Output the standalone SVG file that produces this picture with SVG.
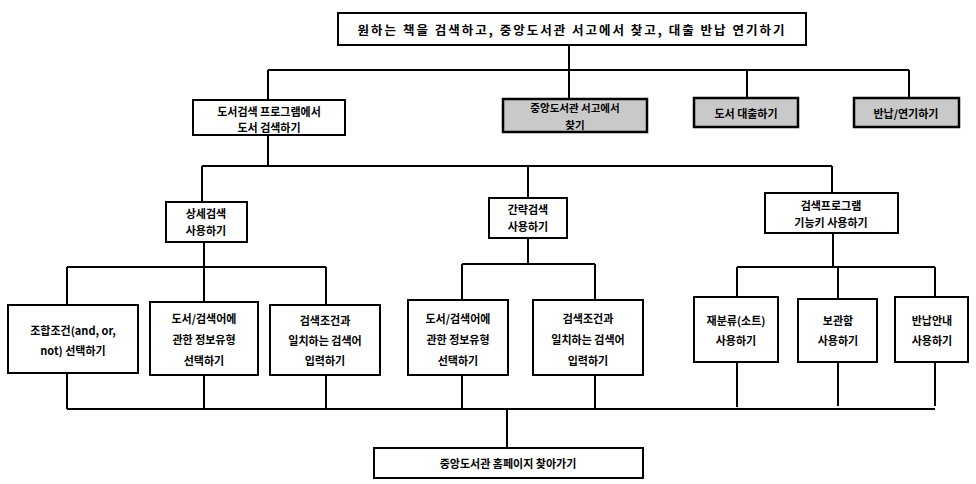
<svg xmlns="http://www.w3.org/2000/svg" width="976" height="484" viewBox="0 0 976 484">
<style>
.box{fill:#ffffff;stroke:#000;stroke-width:2}
.grey{fill:#c9c9c9;stroke:#000;stroke-width:2.5}
.t{font-family:"Noto Sans CJK KR","Noto Sans",sans-serif;font-weight:bold;font-size:11px;fill:#000;text-anchor:middle;dominant-baseline:central}
.tt{font-size:12.5px;letter-spacing:2px}
.s{font-size:10.5px}
.c{stroke:#000;stroke-width:2;fill:none}
</style>
<rect width="976" height="484" fill="#fff"/>
<g id="connectors">
<path class="c" d="M569 45V70M268 70H909M268 70V100M569 70V99M747 70V98M909 70V98"/>
<path class="c" d="M268 135V166M202 166H832M202 166V202M528 166V198M832 166V193"/>
<path class="c" d="M204 242V267M67 267H326M67 267V305M204 267V302M326 267V305"/>
<path class="c" d="M528 238V264M462 264H595M462 264V300M595 264V300"/>
<path class="c" d="M833 233V267M737 267H935M737 267V297M838 267V299M935 267V297"/>
<path class="c" d="M67 373V409M204 375V409M326 375V409M462 375V408M595 375V408M737 362V407M838 362V406M935 362V406M67 409H935"/>
<path class="c" d="M507 408V448"/>
</g>
<g id="n0"><rect class="box" x="338" y="13" width="468" height="32"/><text class="t tt" x="572" y="29">원하는 책을 검색하고, 중앙도서관 서고에서 찾고, 대출 반납 연기하기</text></g>
<g id="n1"><rect class="box" x="193" y="100" width="152" height="35"/><text class="t" x="269" y="111">도서검색 프로그램에서</text><text class="t" x="269" y="127">도서 검색하기</text></g>
<g id="n2"><rect class="grey" x="503" y="99" width="144" height="33"/><text class="t s" x="575" y="107">중앙도서관 서고에서</text><text class="t s" x="575" y="124">찾기</text></g>
<g id="n3"><rect class="grey" x="694" y="98" width="104" height="29"/><text class="t" x="746" y="113">도서 대출하기</text></g>
<g id="n4"><rect class="grey" x="854" y="98" width="105" height="29"/><text class="t" x="906" y="113">반납/연기하기</text></g>
<g id="n5"><rect class="box" x="166" y="202" width="81" height="40"/><text class="t" x="206" y="213">상세검색</text><text class="t" x="206" y="230">사용하기</text></g>
<g id="n6"><rect class="box" x="489" y="198" width="78" height="40"/><text class="t" x="528" y="209">간략검색</text><text class="t" x="528" y="226">사용하기</text></g>
<g id="n7"><rect class="box" x="765" y="193" width="133" height="40"/><text class="t" x="831" y="205">검색프로그램</text><text class="t" x="831" y="222">기능키 사용하기</text></g>
<g id="n8"><rect class="box" x="8" y="305" width="130" height="68"/><text class="t" x="73" y="330">조합조건(and, or,</text><text class="t" x="73" y="350">not) 선택하기</text></g>
<g id="n9"><rect class="box" x="150" y="302" width="108" height="73"/><text class="t" x="204" y="318">도서/검색어에</text><text class="t" x="204" y="339">관한 정보유형</text><text class="t" x="204" y="360">선택하기</text></g>
<g id="n10"><rect class="box" x="270" y="305" width="110" height="70"/><text class="t" x="325" y="320">검색조건과</text><text class="t" x="325" y="340">일치하는 검색어</text><text class="t" x="325" y="360">입력하기</text></g>
<g id="n11"><rect class="box" x="408" y="300" width="100" height="75"/><text class="t" x="458" y="318">도서/검색어에</text><text class="t" x="458" y="339">관한 정보유형</text><text class="t" x="458" y="360">선택하기</text></g>
<g id="n12"><rect class="box" x="533" y="300" width="110" height="75"/><text class="t" x="588" y="318">검색조건과</text><text class="t" x="588" y="339">일치하는 검색어</text><text class="t" x="588" y="360">입력하기</text></g>
<g id="n13"><rect class="box" x="694" y="297" width="84" height="65"/><text class="t" x="736" y="320">재분류(소트)</text><text class="t" x="736" y="340">사용하기</text></g>
<g id="n14"><rect class="box" x="798" y="299" width="79" height="63"/><text class="t" x="838" y="320">보관함</text><text class="t" x="838" y="340">사용하기</text></g>
<g id="n15"><rect class="box" x="895" y="297" width="73" height="65"/><text class="t" x="932" y="320">반납안내</text><text class="t" x="932" y="340">사용하기</text></g>
<g id="n16"><rect class="box" x="374" y="448" width="269" height="30"/><text class="t" x="508" y="463">중앙도서관 홈페이지 찾아가기</text></g>
</svg>
